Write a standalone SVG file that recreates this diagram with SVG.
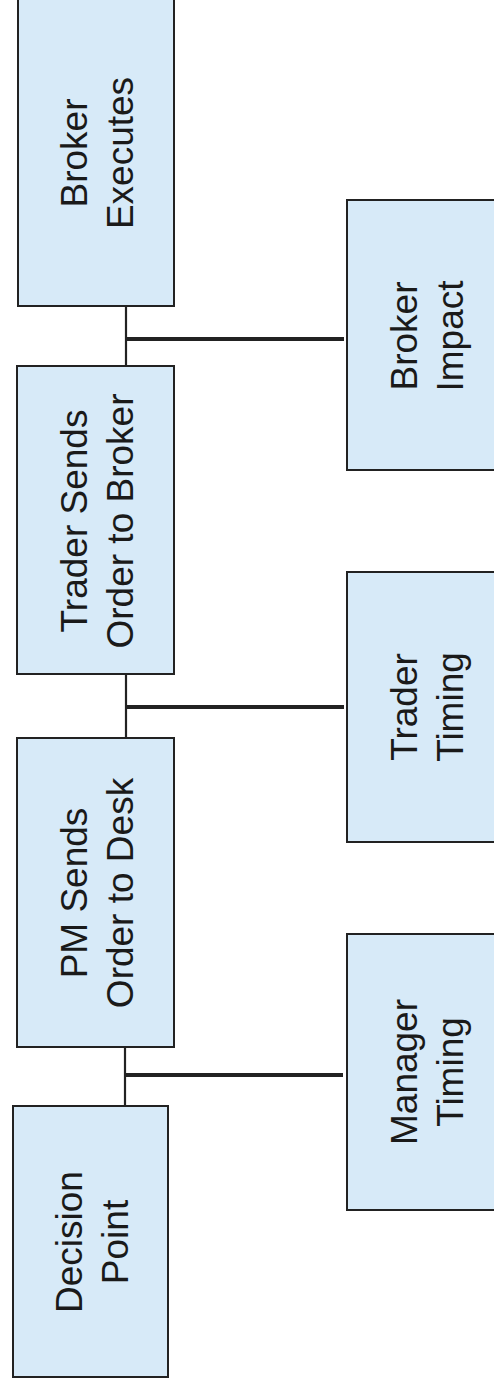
<svg xmlns="http://www.w3.org/2000/svg" width="494" height="1385" viewBox="0 0 494 1385">
<style>
.box{fill:#d7eaf8;stroke:#222;stroke-width:2}
.lbl{font-family:"Liberation Sans",Arial,sans-serif;font-size:37px;fill:#1a1a1a;text-anchor:middle}
.v{stroke:#222;stroke-width:2.2;fill:none}
.h{stroke:#222;stroke-width:4;fill:none}
</style>
<rect width="494" height="1385" fill="#fff"/>
<g id="connectors">
<line class="v" x1="126" y1="306" x2="126" y2="366"/>
<line class="h" x1="126" y1="339" x2="344" y2="339"/>
<line class="v" x1="126" y1="674" x2="126" y2="738"/>
<line class="h" x1="126" y1="707" x2="344" y2="707"/>
<line class="v" x1="125" y1="1047" x2="125" y2="1106"/>
<line class="h" x1="125" y1="1075" x2="343" y2="1075"/>
</g>
<g id="broker-executes">
<rect class="box" x="18" y="-2" width="156" height="308"/>
<text class="lbl" transform="translate(96,153) rotate(-90)"><tspan x="0" y="-9">Broker</tspan><tspan x="0" y="37">Executes</tspan></text>
</g>
<g id="trader-sends">
<rect class="box" x="17" y="366" width="157" height="308"/>
<text class="lbl" transform="translate(96,521) rotate(-90)"><tspan x="0" y="-9">Trader Sends</tspan><tspan x="0" y="37">Order to Broker</tspan></text>
</g>
<g id="pm-sends">
<rect class="box" x="17" y="738" width="157" height="309"/>
<text class="lbl" transform="translate(96,893) rotate(-90)"><tspan x="0" y="-9">PM Sends</tspan><tspan x="0" y="37">Order to Desk</tspan></text>
</g>
<g id="decision-point">
<rect class="box" x="13" y="1106" width="155" height="271"/>
<text class="lbl" transform="translate(91,1242) rotate(-90)"><tspan x="0" y="-9">Decision</tspan><tspan x="0" y="37">Point</tspan></text>
</g>
<g id="broker-impact">
<rect class="box" x="347" y="200" width="156" height="270"/>
<text class="lbl" transform="translate(426,336) rotate(-90)"><tspan x="0" y="-9">Broker</tspan><tspan x="0" y="37">Impact</tspan></text>
</g>
<g id="trader-timing">
<rect class="box" x="347" y="572" width="156" height="270"/>
<text class="lbl" transform="translate(426,707) rotate(-90)"><tspan x="0" y="-9">Trader</tspan><tspan x="0" y="37">Timing</tspan></text>
</g>
<g id="manager-timing">
<rect class="box" x="347" y="934" width="156" height="276"/>
<text class="lbl" transform="translate(426,1072) rotate(-90)"><tspan x="0" y="-9">Manager</tspan><tspan x="0" y="37">Timing</tspan></text>
</g>
</svg>
